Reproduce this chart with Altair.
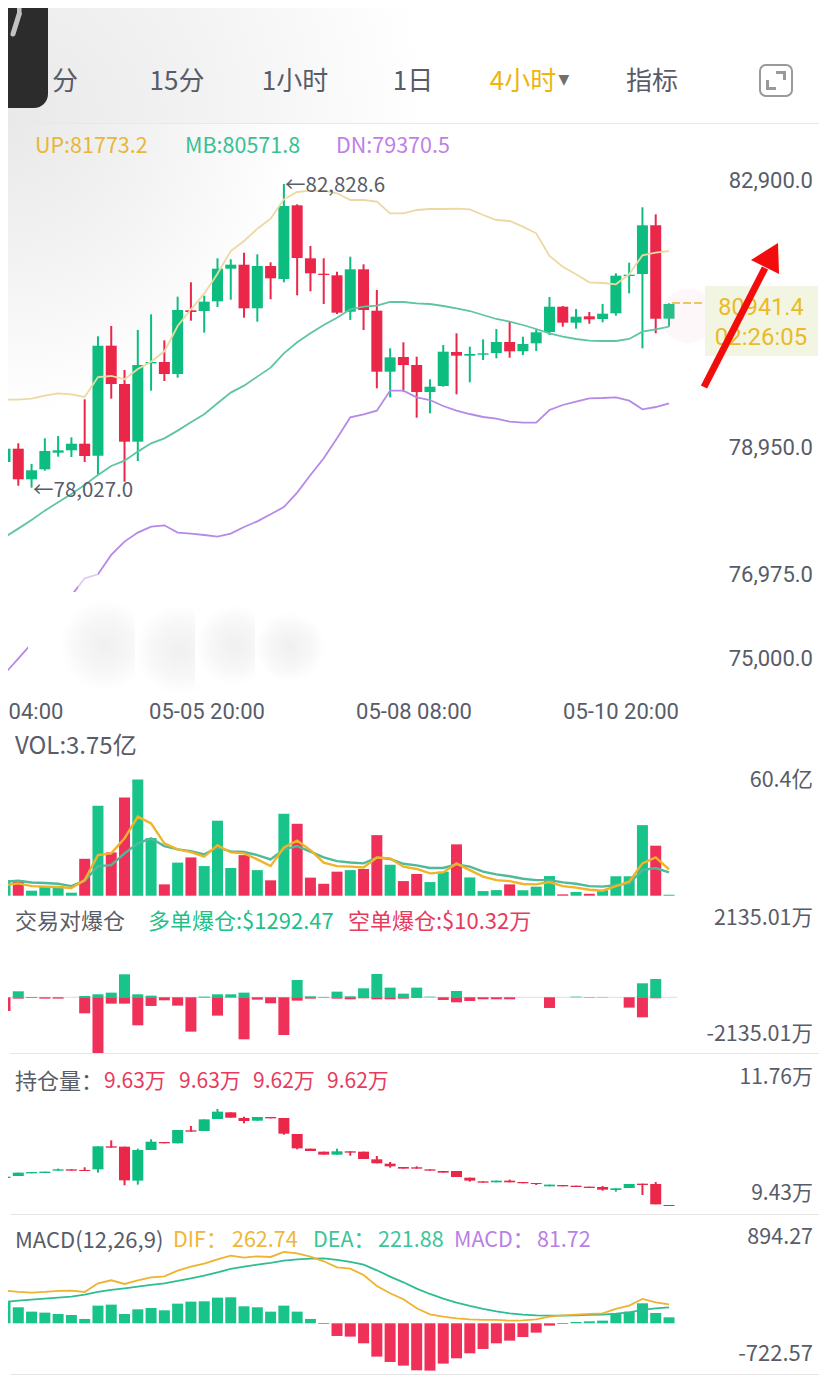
import altair as alt
import pandas as pd

# ---------- main panel (price) ----------
main_open = [78378,78591,78101,78261,78527,78565,78671,78479,80239,79626,78703,79957,79978,79786,80805,80794,80949,81471,81535,80837,81514,81306,82485,81637,81391,81365,80783,81461,80799,79823,80058,79930,79498,79594,80138,80079,80095,80122,80298,80149,80277,80458,80863,80607,80709,80666,80757,81354,81386,82165,80671]
main_close = [78591,78101,78245,78554,78565,78671,78474,80239,79626,78703,79930,79978,79786,80810,80778,80943,81471,81535,80837,81514,81317,82474,81642,81397,81370,80767,81461,80810,79823,80053,79930,79498,79583,80143,80079,80106,80117,80298,80149,80266,80453,80863,80607,80703,80661,80751,81359,81375,82165,80671,80906]
main_high = [79093,78677,78346,78757,78794,78773,79381,80389,80554,79850,80490,80741,80325,81023,81253,81039,81637,81621,81727,81701,81573,82826,82501,81834,81637,81423,81663,81541,81130,80197,80293,80063,79701,80250,80437,80223,80341,80506,80623,80383,80501,81018,80874,80826,80778,80906,81397,81567,82453,82341,80917]
main_low = [78314,77999,77967,78239,78463,78458,78378,78170,79391,78063,78394,79519,79674,79727,80639,80447,80858,80975,80687,80623,80981,81253,81045,81109,80906,80746,80650,80490,79557,79413,79503,79087,79157,79583,79461,79653,80010,80037,80047,80090,80154,80410,80543,80511,80591,80613,80719,81077,80197,80437,80543]
boll_up = [79375,79375,79391,79439,79477,79461,79418,79738,79754,79701,79866,79983,80149,80554,80821,81071,81391,81754,81914,82111,82271,82581,82698,82719,82719,82677,82570,82570,82543,82357,82357,82410,82426,82426,82431,82421,82330,82250,82234,82143,82037,81674,81503,81381,81253,81242,81221,81381,81685,81727,81754]
boll_mid = [77178,77312,77450,77600,77733,77866,78010,78170,78314,78400,78544,78677,78757,78880,79013,79141,79317,79488,79600,79744,79888,80117,80293,80437,80570,80687,80821,80863,80879,80938,80938,80917,80906,80874,80837,80794,80730,80666,80623,80570,80506,80437,80383,80346,80319,80314,80314,80346,80463,80501,80543]
boll_dn = [74997,75232,75472,75728,75984,76240,76517,76581,76891,77104,77248,77344,77365,77248,77232,77210,77184,77232,77338,77429,77541,77658,77888,78170,78437,78757,79093,79141,79200,79520,79520,79413,79370,79274,79200,79146,79098,79072,79023,79007,79007,79210,79290,79343,79397,79402,79413,79360,79221,79258,79317]

# ---------- volume (亿) ----------
vol = [8.15,7.8,2.6,5.0,5.0,1.56,19.2,46.8,22.5,51.0,60.4,30.0,5.9,17.2,19.9,15.4,39.0,14.4,21.1,13.3,8.0,42.6,37.4,9.4,6.2,12.5,13.3,13.9,31.5,16.1,7.6,11.3,7.1,12.5,26.7,9.5,2.4,2.9,5.9,2.8,4.7,10.2,0.7,1.9,1.0,2.9,10.1,10.1,36.7,26.0,0.5]
vol_ma5 = [5.5,6.4,5.0,4.7,4.5,4.0,8.1,21.1,22.0,29.8,41.1,37.6,27.2,24.1,22.7,20.3,26.3,22.5,22.0,18.9,15.4,25.1,28.6,23.7,17.2,15.4,15.1,14.7,19.9,19.4,15.1,13.9,11.6,12.1,16.8,13.3,9.9,8.1,7.6,6.1,5.9,7.1,5.0,4.2,3.1,2.6,5.0,7.3,16.8,19.9,13.7]
vol_ma10 = [7.3,7.8,6.9,6.6,6.2,5.0,7.8,15.4,15.9,22.0,27.2,29.8,25.8,24.1,23.2,21.5,25.1,23.0,22.7,21.1,18.9,24.1,25.8,22.9,19.9,18.0,17.3,16.8,19.8,19.1,16.6,15.8,14.4,14.4,16.3,15.1,12.5,11.1,10.1,8.8,8.1,8.1,6.9,6.2,5.0,4.7,5.5,6.4,13.3,14.4,12.1]

# ---------- liquidations (万) ----------
liq_long = [0,228,0,0,0,0,51,114,177,874,114,63,0,0,0,25,114,114,177,0,0,0,659,38,13,215,38,342,887,367,139,367,25,0,241,0,0,0,0,0,0,0,0,25,0,13,0,0,532,697,0]
liq_short = [519,51,25,51,51,0,608,2129,241,241,1064,329,114,317,1305,13,697,13,1596,89,228,1432,127,51,13,51,76,38,76,76,51,25,0,101,190,139,76,76,76,0,0,405,0,0,13,0,0,393,760,38,0]

# ---------- open interest (万) ----------
oi_open = [9.776,9.816,9.870,9.877,9.924,9.951,9.938,9.951,10.417,10.410,9.722,10.343,10.505,10.478,10.741,10.727,10.970,11.105,10.990,10.936,11.011,10.990,10.667,10.370,10.309,10.248,10.316,10.309,10.154,10.066,9.998,9.992,9.951,9.917,9.917,9.782,9.708,9.688,9.722,9.695,9.674,9.607,9.634,9.620,9.600,9.593,9.533,9.573,9.661,9.654,9.229]
oi_close = [9.803,9.884,9.897,9.904,9.951,9.924,9.917,10.417,10.390,9.728,10.343,10.511,10.478,10.747,10.714,10.963,11.119,10.997,10.930,11.011,10.984,10.673,10.376,10.322,10.248,10.316,10.289,10.160,10.073,10.012,9.965,9.965,9.924,9.884,9.796,9.722,9.681,9.722,9.688,9.668,9.654,9.641,9.607,9.593,9.573,9.539,9.566,9.654,9.634,9.242,9.209]
oi_high = [9.803,9.884,9.897,9.904,9.965,9.951,9.992,10.417,10.538,10.410,10.370,10.559,10.505,10.747,10.829,10.963,11.173,11.105,11.017,11.011,11.011,10.990,10.667,10.370,10.309,10.370,10.316,10.309,10.221,10.100,9.998,10.012,9.951,9.917,9.917,9.782,9.708,9.722,9.742,9.695,9.674,9.641,9.634,9.620,9.600,9.614,9.566,9.654,9.661,9.695,9.229]
oi_low = [9.776,9.816,9.870,9.877,9.924,9.924,9.917,9.884,10.390,9.627,9.641,10.343,10.478,10.478,10.714,10.727,10.970,10.997,10.883,10.936,10.984,10.653,10.356,10.322,10.248,10.248,10.228,10.160,10.073,9.985,9.965,9.965,9.924,9.884,9.796,9.701,9.681,9.688,9.688,9.668,9.634,9.607,9.607,9.593,9.573,9.519,9.499,9.573,9.431,9.242,9.209]

# ---------- MACD ----------
macd_hist = [301.5,216,157.5,144,126,112.5,58.5,238.5,252,126,189,207,175.5,265.5,292.5,297,346.5,351,229.5,216,157.5,238.5,157.5,58.5,-9,-171,-180,-270,-450,-522,-571.5,-634.5,-639,-544.5,-472.5,-405,-346.5,-270,-234,-184.5,-126,-31.5,-9,18,27,36,126,157.5,270,139.5,81]
macd_dif = [441,423,414,423,436.5,441,423,540,580.5,531,580.5,621,634.5,711,765,805.5,864,913.5,886.5,904.5,895.5,963,945,900,837,756,738,652.5,504,405,324,202.5,121.5,90,67.5,54,45,45,36,40.5,54,90,108,117,126,135,193.5,238.5,328.5,283.5,256.5]
macd_dea = [288,306,319.5,333,346.5,360,387,423,450,472.5,495,517.5,540,571.5,607.5,643.5,688.5,733.5,765,792,814.5,846,864,873,877.5,855,828,792,715.5,630,553.5,468,396,333,279,234,193.5,162,135,117,108,103.5,103.5,108,112.5,117,130.5,148.5,180,202.5,216]

# ---------- texts ----------
tabs = ["分", "15分", "1小时", "1日", "4小时", "指标"]
time_labels = ["04:00", "05-05 20:00", "05-08 08:00", "05-10 20:00"]
price_labels = ["82,900.0", "78,950.0", "76,975.0", "75,000.0"]

GREEN, RED = "#0dbd80", "#ea2749"
VGREEN, VRED = "#18c48a", "#ef3159"
GRAY = "#585c68"
CJK = "Noto Sans CJK SC"
NUM = "Roboto"
W = 813
IDX = alt.Scale(domain=[(8 - 5) / 13.28, (821 - 5) / 13.28], padding=0, nice=False, zero=False)
ONE = alt.Data(values=[{"a": 1}])
idx = list(range(51))


def txt(text, x, y, top, size=20, color=GRAY, align="left", font=CJK, **kw):
    return alt.Chart(ONE).mark_text(text=text, align=align, baseline="middle", fontSize=size,
                                    color=color, font=font, **kw).encode(
        x=alt.value(x - 8), y=alt.value(y - top))


def box(x1, x2, y1, y2, top, **kw):
    return alt.Chart(ONE).mark_rect(clip=True, **kw).encode(
        x=alt.value(x1 - 8), x2=alt.value(x2 - 8), y=alt.value(y1 - top), y2=alt.value(y2 - top))


def seg(x1, y1, x2, y2, top, **kw):
    return alt.Chart(ONE).mark_rule(clip=True, **kw).encode(
        x=alt.value(x1 - 8), x2=alt.value(x2 - 8), y=alt.value(y1 - top), y2=alt.value(y2 - top))


def radial(cx, cy, stops, r=1):
    return alt.RadialGradient(gradient="radial", x1=cx, y1=cy, x2=cx, y2=cy, r1=0, r2=r,
                              stops=[alt.GradientStop(color=c, offset=o) for o, c in stops])


def candles(o, c, h, l, yscale):
    df = pd.DataFrame({"i": idx, "o": o, "c": c, "h": h, "l": l})
    df["d"] = ["up" if b >= a else "dn" for a, b in zip(o, c)]
    col = alt.Color("d:N", scale=alt.Scale(domain=["up", "dn"], range=[GREEN, RED]), legend=None)
    x = alt.X("i:Q", scale=IDX, axis=None)
    wick = alt.Chart(df).mark_rule(strokeWidth=2, clip=True).encode(
        x=x, y=alt.Y("h:Q", scale=yscale, axis=None), y2="l:Q", color=col)
    body = alt.Chart(df).mark_bar(size=11, clip=True).encode(
        x=x, y=alt.Y("o:Q", scale=yscale, axis=None), y2="c:Q", color=col)
    return [wick, body]


def line(values, color, yscale, width=1.8, **kw):
    df = pd.DataFrame({"i": idx, "v": values})
    return alt.Chart(df).mark_line(color=color, strokeWidth=width, clip=True, **kw).encode(
        x=alt.X("i:Q", scale=IDX, axis=None), y=alt.Y("v:Q", scale=yscale, axis=None))


def bars(values, colors, yscale):
    df = pd.DataFrame({"i": idx, "v": values, "z": [0] * 51, "d": colors})
    return alt.Chart(df).mark_bar(size=11, clip=True).encode(
        x=alt.X("i:Q", scale=IDX, axis=None),
        y=alt.Y("v:Q", scale=yscale, axis=None), y2="z:Q",
        color=alt.Color("d:N", scale=alt.Scale(domain=["up", "dn"], range=[VGREEN, VRED]), legend=None))


SOFT = [(0, "#e9e9e9"), (0.5, "#f3f3f3"), (1, "#ffffff")]
BLOB = [(0, "#f0f0f0"), (0.6, "#f7f7f7"), (1, "#ffffff")]

# ---------- header panel ----------
T0, H0 = 8, 116
header = [
    box(8, 428, -296, 124, T0, fill=radial(0, 1, SOFT)),
    box(8, 48, 8, 108, T0, fill="#2c2c2c", cornerRadiusBottomRight=14),
    box(17, 21.5, 8, 15, T0, fill="#c2c2c2"),
    seg(19.2, 14, 13, 34, T0, color="#c2c2c2", strokeWidth=5, strokeCap="round"),
]
for t, x, c in zip(tabs, [65, 177, 295, 413, 523, 652],
                   [GRAY, GRAY, GRAY, GRAY, "#efb50f", GRAY]):
    header.append(txt(t, x, 82, T0, size=26, color=c, align="center"))
header += [
    txt("▼", 564, 80, T0, size=14, color="#6f6f6f", align="center", font="DejaVu Sans"),
    box(760, 792, 65, 96, T0, fill="#ffffff", stroke="#9a9a9a", strokeWidth=2, cornerRadius=6),
    box(776, 786, 71, 74, T0, fill="#9a9a9a"),
    box(783, 786, 71, 80, T0, fill="#9a9a9a"),
    box(766, 776, 87, 90, T0, fill="#9a9a9a"),
    box(766, 769, 80, 90, T0, fill="#9a9a9a"),
    seg(10, 123.5, 819, 123.5, T0, color="#e8e8e8", strokeWidth=1),
]
p_header = alt.layer(*header).properties(width=W, height=H0)

# ---------- main panel ----------
T1, H1 = 124, 571
Y1 = alt.Scale(domain=[85770 - 16 * 695, 85770 - 16 * 124])
main = [box(8, 298, 124, 414, T1, fill=radial(0, 0, SOFT))]
main += candles(main_open, main_close, main_high, main_low, Y1)
main += [
    line(boll_up, "#ecd9a2", Y1),
    line(boll_mid, "#5fc4a3", Y1),
    line(boll_dn, "#b48ae8", Y1),
    # erased patch over the lower part of the chart
    box(28, 78, 592, 652, T1, fill="#ffffff"),
    box(78, 98, 570, 592, T1, fill="#ffffff", opacity=0.55),
    box(60, 150, 600, 690, T1, fill=radial(0.5, 0.5, BLOB, r=0.5)),
    box(135, 225, 605, 695, T1, fill=radial(0.5, 0.5, BLOB, r=0.5)),
    box(195, 275, 605, 685, T1, fill=radial(0.5, 0.5, BLOB, r=0.5)),
    box(255, 325, 612, 682, T1, fill=radial(0.5, 0.5, BLOB, r=0.5)),
    txt("UP:81773.2", 35, 147, T1, size=21.5, color="#e9b637"),
    txt("MB:80571.8", 185, 147, T1, size=21.5, color="#37c193"),
    txt("DN:79370.5", 336, 147, T1, size=21.5, color="#bf7fe6"),
    txt("←82,828.6", 285, 186, T1, size=20.5),
    txt("←78,027.0", 33, 491, T1, size=20.5),
    alt.Chart(ONE).mark_point(filled=True, color="#f6bfd0", opacity=0.12, size=3000).encode(
        x=alt.value(680), y=alt.value(316 - T1)),
    seg(672, 303, 706, 303, T1, color="#eec65f", strokeWidth=2, strokeDash=[8, 3]),
    box(705, 818, 286, 356, T1, fill="#f3f5e3"),
    txt("80941.4", 761, 308, T1, size=23.5, color="#e9bb28", align="center", font=NUM),
    txt("02:26:05", 761, 338, T1, size=24, color="#e9bb28", align="center", font=NUM),
    seg(704, 387, 765, 268, T1, color="#f20c0c", strokeWidth=7),
    alt.Chart(ONE).mark_point(filled=True, color="#f20c0c", opacity=1, size=900,
                              shape="M-1.2,0.07L0.6,-1.07L0.67,1Z").encode(
        x=alt.value(769 - 8), y=alt.value(259 - T1)),
]
for t, y in zip(price_labels, [181, 448, 575, 659]):
    main.append(txt(t, 813, y, T1, size=22, align="right", font=NUM))
p_main = alt.layer(*main).properties(width=W, height=H1)

# ---------- volume panel ----------
T2, H2 = 695, 210
Y2 = alt.Scale(domain=[-(905 - 895.7) * 0.52, (895.7 - 695) * 0.52])
vol_dir = ["up" if c >= o else "dn" for o, c in zip(main_open, main_close)]
volume = [bars(vol, vol_dir, Y2), line(vol_ma10, "#4fb99a", Y2, width=2.4), line(vol_ma5, "#efb428", Y2, width=2.4)]
for t, x in zip(time_labels, [36, 207, 414, 621]):
    volume.append(txt(t, x, 712, T2, size=22, align="center", font=NUM))
volume += [
    txt("VOL:3.75亿", 15, 747, T2, size=24),
    txt("60.4亿", 813, 781, T2, size=21.5, align="right"),
]
p_vol = alt.layer(*volume).properties(width=W, height=H2)

# ---------- liquidation panel ----------
T3, H3 = 905, 149
Y3 = alt.Scale(domain=[-(1054 - 997.3) * 38, (997.3 - 905) * 38])
liq_base = pd.DataFrame({"a": [0.3], "b": [50.6], "z": [0]})
liq = [
    alt.Chart(liq_base).mark_rule(color="#dddddd", strokeWidth=1, clip=True).encode(
        x=alt.X("a:Q", scale=IDX, axis=None), x2="b:Q", y=alt.Y("z:Q", scale=Y3, axis=None)),
    bars(liq_long, ["up"] * 51, Y3),
    bars([-v for v in liq_short], ["dn"] * 51, Y3),
    txt("交易对爆仓", 15, 922, T3, size=22),
    txt("多单爆仓:$1292.47", 148, 922, T3, size=22, color="#1fbf89"),
    txt("空单爆仓:$10.32万", 348, 922, T3, size=22, color="#e83a5c"),
    txt("2135.01万", 813, 919, T3, size=21.5, align="right"),
    txt("-2135.01万", 813, 1035, T3, size=21.5, align="right"),
    seg(10, 1053.5, 819, 1053.5, T3, color="#e6e6e6", strokeWidth=1),
]
p_liq = alt.layer(*liq).properties(width=W, height=H3)

# ---------- open-interest panel ----------
T4, H4 = 1054, 161
Y4 = alt.Scale(domain=[12.165 - 0.00675 * 465, 12.165 - 0.00675 * -18])
oi = candles(oi_open, oi_close, oi_high, oi_low, Y4)
oi += [txt("持仓量：", 15, 1082, T4, size=22)]
for t, x in zip(["9.63万", "9.63万", "9.62万", "9.62万"], [104, 179, 253, 327]):
    oi.append(txt(t, x, 1082, T4, size=21, color="#e83a5c"))
oi += [
    txt("11.76万", 813, 1078, T4, size=21, align="right"),
    txt("9.43万", 813, 1194, T4, size=21, align="right"),
    seg(10, 1214.5, 819, 1214.5, T4, color="#e6e6e6", strokeWidth=1),
]
p_oi = alt.layer(*oi).properties(width=W, height=H4)

# ---------- MACD panel ----------
T5, H5 = 1215, 172
Y5 = alt.Scale(domain=[-(1387 - 1323.3) * 13.5, (1323.3 - 1215) * 13.5])
macd_dir = ["up" if v >= 0 else "dn" for v in macd_hist]
macd = [
    bars(macd_hist, macd_dir, Y5),
    line(macd_dea, "#2dbd94", Y5),
    line(macd_dif, "#eeb32f", Y5),
    txt("MACD(12,26,9)", 15, 1241, T5, size=22),
    txt("DIF：", 173, 1241, T5, size=21.5, color="#eeb73a"),
    txt("262.74", 232, 1241, T5, size=21.5, color="#eeb73a"),
    txt("DEA：", 313, 1241, T5, size=21.5, color="#3cc49a"),
    txt("221.88", 378, 1241, T5, size=21.5, color="#3cc49a"),
    txt("MACD：", 454, 1241, T5, size=21.5, color="#b97fe6"),
    txt("81.72", 537, 1241, T5, size=21.5, color="#b97fe6"),
    txt("894.27", 813, 1238, T5, size=21.5, align="right"),
    txt("-722.57", 813, 1354, T5, size=22, align="right"),
    seg(10, 1374.5, 819, 1374.5, T5, color="#e6e6e6", strokeWidth=1),
]
p_macd = alt.layer(*macd).properties(width=W, height=H5)

chart = alt.vconcat(p_header, p_main, p_vol, p_liq, p_oi, p_macd, spacing=0, bounds="flush").properties(
    padding=0, background="#ffffff").resolve_scale(color="independent").configure_view(stroke=None)

chart.save("out.html", embed_options={"renderer": "svg", "actions": False})
